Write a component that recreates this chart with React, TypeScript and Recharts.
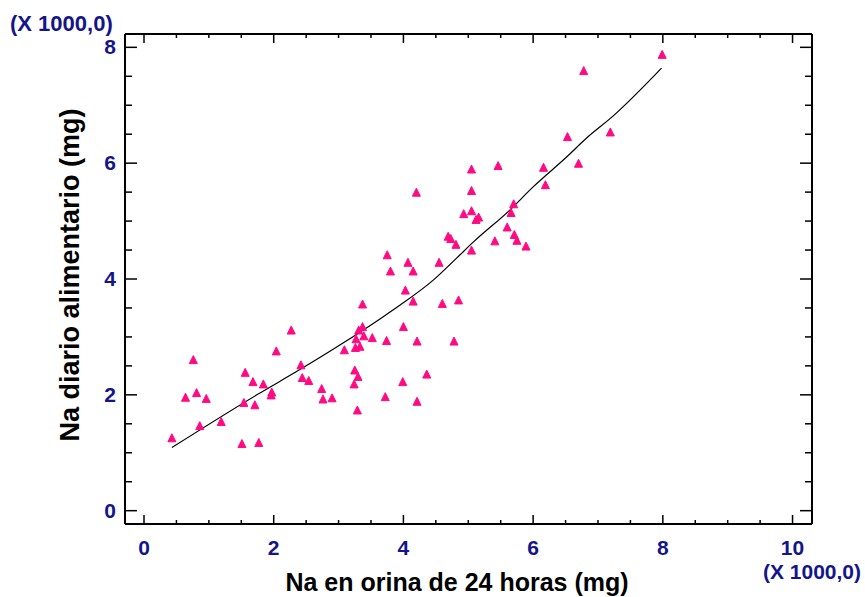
import React from "react";
import { ScatterChart, Scatter, XAxis, YAxis } from "recharts";

// Na en orina de 24 horas (mg, x 1000)
const naOrina = [
  0.43, 0.76, 0.64, 0.81, 0.96, 0.86, 1.19, 1.51, 1.77, 1.54,
  1.71, 1.56, 1.68, 1.84, 1.97, 1.96, 2.04, 2.27, 2.42, 2.44,
  2.54, 2.74, 2.76, 2.9, 3.75, 4.07, 4.55, 3.8, 4.15, 5.05,
  4.03, 4.15, 4.6, 4.85, 3.37, 4.0, 3.37, 3.31, 3.39, 3.27,
  3.52, 3.74, 4.21, 4.78, 3.09, 3.26, 3.33, 3.25, 3.3, 3.24,
  3.99, 4.36, 3.72, 4.21, 3.29, 4.2, 5.05, 5.46, 6.16, 6.7,
  6.53, 5.05, 6.19, 4.93, 5.05, 5.12, 5.16, 5.7, 5.66, 5.6,
  5.71, 5.75, 5.89, 5.41, 4.69, 4.73, 4.81, 7.99, 6.78, 7.19,
];

// Na diario alimentario (mg, x 1000)
const naDieta = [
  1.25, 2.6, 1.95, 2.03, 1.93, 1.46, 1.53, 1.15, 1.17, 1.86,
  1.82, 2.38, 2.22, 2.18, 2.04, 1.99, 2.75, 3.11, 2.51, 2.29,
  2.24, 2.1, 1.92, 1.94, 4.41, 4.28, 4.28, 4.13, 4.13, 4.49,
  3.8, 3.61, 3.57, 3.63, 3.56, 3.17, 3.17, 3.11, 3.01, 2.96,
  2.98, 2.93, 2.92, 2.92, 2.77, 2.81, 2.83, 2.42, 2.31, 2.18,
  2.22, 2.35, 1.96, 1.88, 1.73, 5.49, 5.89, 5.95, 5.92, 5.99,
  6.45, 5.52, 5.62, 5.12, 5.17, 5.02, 5.06, 5.29, 5.14, 4.89,
  4.76, 4.66, 4.56, 4.65, 4.73, 4.69, 4.59, 7.87, 7.59, 6.53,
];

// fitted curve
const fitX = [0.43, 1.74, 2.41, 3.02, 3.69, 3.95, 4.46, 4.82, 5.08, 5.64, 6.0, 6.52, 6.82, 7.24, 7.98];
const fitY = [1.09, 2.0, 2.44, 2.86, 3.35, 3.55, 3.98, 4.36, 4.64, 5.19, 5.59, 6.11, 6.43, 6.82, 7.64];

const xTicks = [0, 0.5, 1, 1.5, 2, 2.5, 3, 3.5, 4, 4.5, 5, 5.5, 6, 6.5, 7, 7.5, 8, 8.5, 9, 9.5, 10];
const yTicks = [0, 0.5, 1, 1.5, 2, 2.5, 3, 3.5, 4, 4.5, 5, 5.5, 6, 6.5, 7, 7.5, 8];
const xLabels = [0, 2, 4, 6, 8, 10];
const yLabels = [0, 2, 4, 6, 8];

const NAVY = "#15158a";
const PINK = "#ff0a84";
const FONT = "'Liberation Sans', Arial, sans-serif";

const points = naOrina.map((x, i) => ({ x, y: naDieta[i] }));
const fit = fitX.map((x, i) => ({ x, y: fitY[i] }));

function Triangle(props: any) {
  const { cx, cy } = props;
  if (cx == null || cy == null) return <g />;
  return (
    <path
      d={`M${cx},${cy - 4.5} L${cx + 4},${cy + 3.5} L${cx - 4},${cy + 3.5} Z`}
      fill={PINK}
      stroke={PINK}
      strokeWidth={1}
      strokeLinejoin="round"
    />
  );
}

const noDot = () => <g />;

function BottomTick(props: any) {
  const { x, y, payload } = props;
  const major = xLabels.includes(payload.value);
  return (
    <g>
      <line x1={x} y1={y} x2={x} y2={y - (major ? 9 : 4)} stroke="#000" strokeWidth={1.5} />
      {major && (
        <text x={x} y={y + 31} textAnchor="middle" fill={NAVY} fontFamily={FONT} fontWeight="bold" fontSize={21}>
          {payload.value}
        </text>
      )}
    </g>
  );
}

function TopTick(props: any) {
  const { x, y, payload } = props;
  const major = xLabels.includes(payload.value);
  return <line x1={x} y1={y} x2={x} y2={y + (major ? 9 : 4)} stroke="#000" strokeWidth={1.5} />;
}

function LeftTick(props: any) {
  const { x, y, payload } = props;
  const major = yLabels.includes(payload.value);
  return (
    <g>
      <line x1={x} y1={y} x2={x + (major ? 12 : 7)} y2={y} stroke="#000" strokeWidth={1.5} />
      {major && (
        <text x={x - 9} y={y + 7} textAnchor="end" fill={NAVY} fontFamily={FONT} fontWeight="bold" fontSize={21}>
          {payload.value}
        </text>
      )}
    </g>
  );
}

function RightTick(props: any) {
  const { x, y, payload } = props;
  const major = yLabels.includes(payload.value);
  return <line x1={x} y1={y} x2={x - (major ? 12 : 7)} y2={y} stroke="#000" strokeWidth={1.5} />;
}

function YTitle() {
  return (
    <g>
      <text x={10} y={31} fill={NAVY} fontFamily={FONT} fontWeight="bold" fontSize={22}>
        (X 1000,0)
      </text>
      <text
        x={70}
        y={275}
        transform="rotate(-90, 70, 275)"
        textAnchor="middle"
        dominantBaseline="central"
        fill="#000"
        fontFamily={FONT}
        fontWeight="bold"
        fontSize={27}
      >
        Na diario alimentario (mg)
      </text>
    </g>
  );
}

function XTitle() {
  return (
    <g>
      <text x={457} y={591} textAnchor="middle" fill="#000" fontFamily={FONT} fontWeight="bold" fontSize={25}>
        Na en orina de 24 horas (mg)
      </text>
      <text x={861} y={579} textAnchor="end" fill={NAVY} fontFamily={FONT} fontWeight="bold" fontSize={21}>
        (X 1000,0)
      </text>
    </g>
  );
}

export default function App() {
  return (
    <div style={{ position: "absolute", left: 0, top: 0, background: "#fff" }}>
      <ScatterChart width={865} height={597} margin={{ top: 0, right: 0, bottom: 0, left: 0 }}>
        <XAxis
          xAxisId="bottom"
          dataKey="x"
          type="number"
          orientation="bottom"
          domain={[-0.293, 10.3]}
          allowDataOverflow
          ticks={xTicks}
          interval={0}
          height={73}
          tickSize={0}
          tickMargin={0}
          tickLine={false}
          axisLine={{ stroke: "#000", strokeWidth: 2 }}
          tick={<BottomTick />}
          label={{ content: () => <XTitle /> }}
        />
        <XAxis
          xAxisId="top"
          dataKey="x"
          type="number"
          orientation="top"
          domain={[-0.293, 10.3]}
          allowDataOverflow
          ticks={xTicks}
          interval={0}
          height={34}
          tickSize={0}
          tickMargin={0}
          tickLine={false}
          axisLine={{ stroke: "#000", strokeWidth: 2 }}
          tick={<TopTick />}
        />
        <YAxis
          yAxisId="left"
          dataKey="y"
          type="number"
          orientation="left"
          domain={[-0.23, 8.23]}
          allowDataOverflow
          ticks={yTicks}
          interval={0}
          width={125}
          tickSize={0}
          tickMargin={0}
          tickLine={false}
          axisLine={{ stroke: "#000", strokeWidth: 2 }}
          tick={<LeftTick />}
          label={{ content: () => <YTitle /> }}
        />
        <YAxis
          yAxisId="right"
          dataKey="y"
          type="number"
          orientation="right"
          domain={[-0.23, 8.23]}
          allowDataOverflow
          ticks={yTicks}
          interval={0}
          width={53}
          tickSize={0}
          tickMargin={0}
          tickLine={false}
          axisLine={{ stroke: "#000", strokeWidth: 2 }}
          tick={<RightTick />}
        />
        <Scatter
          data={fit}
          xAxisId="top"
          yAxisId="right"
          shape={noDot}
          line={{ stroke: "#000", strokeWidth: 1.2 }}
          lineType="joint"
          lineJointType="monotoneX"
          isAnimationActive={false}
        />
        <Scatter
          data={points}
          xAxisId="bottom"
          yAxisId="left"
          shape={(p: any) => <Triangle {...p} />}
          isAnimationActive={false}
        />
      </ScatterChart>
    </div>
  );
}
